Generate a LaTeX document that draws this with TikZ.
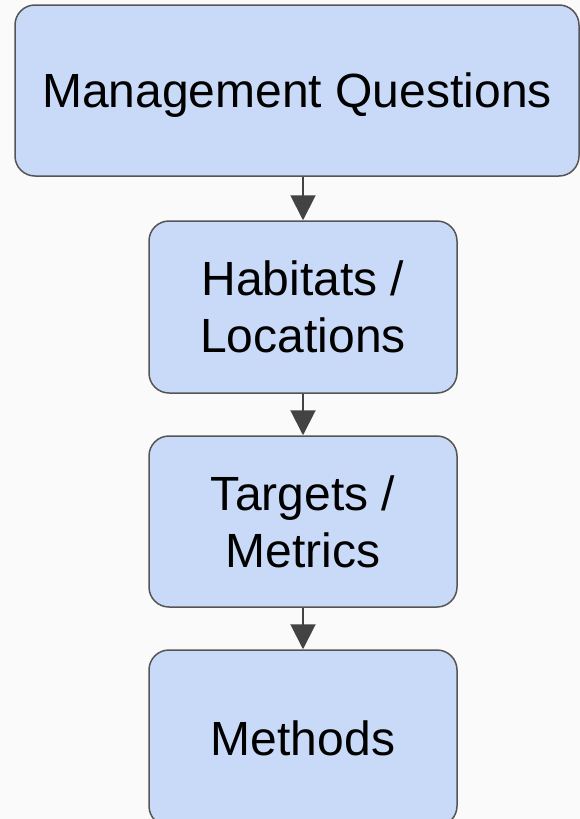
\documentclass[tikz,border=0pt]{standalone}
\usepackage{fontspec}
\setmainfont{Liberation Sans}
\usetikzlibrary{arrows.meta}
\definecolor{bgcol}{HTML}{FAFAFA}
\definecolor{boxfill}{HTML}{C9DAF8}
\definecolor{boxline}{HTML}{555555}
\definecolor{arrowcol}{HTML}{434343}
\begin{document}
\begin{tikzpicture}[x=1pt,y=-1pt,
  flowbox/.style={draw=boxline, line width=1.5pt, fill=boxfill, rounded corners=20pt,
    align=center, inner sep=0pt, font=\fontsize{48}{57}\selectfont, text=black},
  flowarrow/.style={draw=arrowcol, line width=2pt, -{Triangle[length=25pt,width=25pt]}}]
\fill[bgcol] (0,0) rectangle (580,819);
\useasboundingbox (0,0) rectangle (580,819);
\clip (0,0) rectangle (580,819);
\node[flowbox, minimum width=564pt, minimum height=171pt, text depth=0pt] (mq) at (297,90.5) {Management Questions};
\node[flowbox, minimum width=308pt, minimum height=172pt] (hl) at (303,307) {Habitats /\\Locations};
\node[flowbox, minimum width=308pt, minimum height=171pt] (tm) at (303,521.5) {Targets /\\Metrics};
\node[flowbox, minimum width=308pt, minimum height=176pt] (me) at (303,738) {Methods};
\draw[flowarrow] (mq.south -| hl.north) -- (hl.north);
\draw[flowarrow] (hl.south) -- (tm.north);
\draw[flowarrow] (tm.south) -- (me.north);
\end{tikzpicture}
\end{document}
